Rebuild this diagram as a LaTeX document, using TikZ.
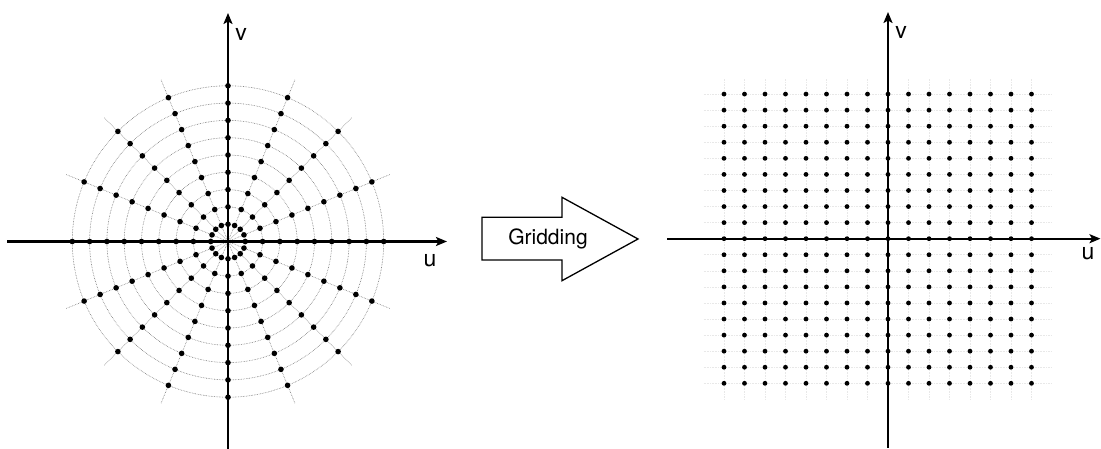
\documentclass[tikz,border=0pt]{standalone}
\usepackage{fontspec}
\setmainfont{TeX Gyre Heros}
\usetikzlibrary{positioning, arrows.meta, calc}
\definecolor{trazo}{HTML}{000000}
\definecolor{malla}{HTML}{707070}
\definecolor{tenue}{HTML}{E8E8E8}
\tikzset{
  eje/.style={draw=trazo, line width=2.2pt, -{Stealth[length=11pt, width=9pt, inset=2.5pt]}},
  circulo/.style={draw=malla, line width=0.6pt, densely dotted},
  radio/.style={draw=malla, line width=0.6pt, densely dotted},
  lineatenue/.style={draw=tenue, line width=0.6pt, densely dotted},
  punto/.style={fill=trazo},
  etiqueta/.style={font=\fontsize{23}{27}\selectfont, inner sep=0pt},
}

\begin{document}
\begin{tikzpicture}[x=1pt, y=1pt]
  \useasboundingbox (0,0) rectangle (1101,449);
  % muestreo polar
  \coordinate (pc) at (228,207.5);
  \foreach \k in {1,...,9}
    \draw[circulo] (pc) circle ({17.3*\k});
  \foreach \a in {0,22.5,...,337.5}
    \draw[radio] (pc) -- ++(\a:175);
  \foreach \k in {1,...,9}
    \foreach \a in {0,22.5,...,337.5}
      \fill[punto] (pc) ++(\a:{17.3*\k}) circle (2.8);
  \coordinate (pl) at (7,207.5);
  \coordinate (pr) at (447,207.5);
  \coordinate (pb) at (228,0);
  \coordinate (pt) at (228,436);
  \draw[eje] (pl) -- (pr);
  \draw[eje] (pb) -- (pt);
  \node[etiqueta] (pu) at (430,188.5) {u};
  \node[etiqueta] (pv) at (241,415) {v};
  % flecha
  \node[font=\fontsize{21}{25}\selectfont] (grid) at (548,210) {Gridding};
  \draw[draw=trazo, line width=1.3pt] (482,231.7) -- (562,231.7) -- (562,251.7)
    -- (638,210) -- (562,168.3) -- (562,189) -- (482,189) -- cycle;
  % muestreo cartesiano
  \coordinate (rc) at (888,210.3);
  \foreach \j in {-9,...,9}
    \draw[lineatenue] (rc) ++(-184.5,{16.07*\j}) -- ++(348.5,0);
  \foreach \i in {-8,...,7}
    \draw[lineatenue] (rc) ++({20.5*\i},-160.7) -- ++(0,321.4);
  \foreach \i in {-8,...,7}
    \foreach \j in {-9,...,9}
      \fill[punto] (rc) ++({20.5*\i},{16.07*\j}) circle (2.4);
  \coordinate (rl) at (667,210.3);
  \coordinate (rr) at (1100.5,210.3);
  \coordinate (rb) at (888,1);
  \coordinate (rt) at (888,437);
  \draw[eje] (rl) -- (rr);
  \draw[eje] (rb) -- (rt);
  \node[etiqueta] (ru) at (1088,195) {u};
  \node[etiqueta] (rv) at (901,416.5) {v};
\end{tikzpicture}
\end{document}
